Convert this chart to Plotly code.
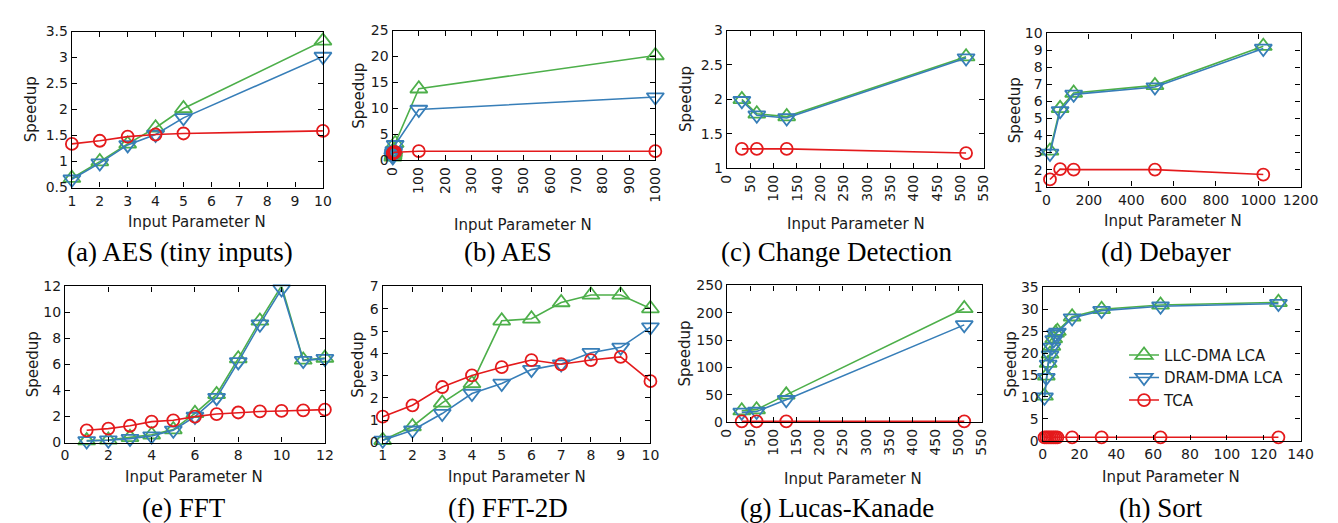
import plotly.graph_objects as go

W, H = 1338, 523

# ---------------- data ----------------
aes_tiny_n = [1, 2, 3, 4, 5, 10]
aes_tiny_llc = [0.68, 1.0, 1.34, 1.65, 2.02, 3.32]
aes_tiny_dram = [0.66, 0.97, 1.32, 1.52, 1.84, 3.02]
aes_tiny_tca = [1.34, 1.40, 1.48, 1.52, 1.54, 1.59]

aes_n = [1, 2, 3, 4, 5, 10, 100, 1000]
aes_llc = [0.68, 1.0, 1.34, 1.65, 2.02, 3.32, 13.8, 20.2]
aes_dram = [0.66, 0.97, 1.32, 1.52, 1.84, 3.02, 9.8, 12.2]
aes_tca = [1.34, 1.40, 1.48, 1.52, 1.54, 1.59, 1.78, 1.78]

cd_n = [32, 64, 128, 512]
cd_llc = [2.0, 1.79, 1.75, 2.62]
cd_dram = [1.98, 1.77, 1.73, 2.60]
cd_tca = [1.28, 1.28, 1.28, 1.22]

deb_n = [16, 64, 128, 512, 1024]
deb_llc = [3.1, 5.6, 6.5, 6.95, 9.25]
deb_dram = [2.95, 5.45, 6.42, 6.85, 9.12]
deb_tca = [1.42, 2.03, 2.0, 2.0, 1.71]

fft_n = [1, 2, 3, 4, 5, 6, 7, 8, 9, 10, 11, 12]
fft_llc = [0.15, 0.2, 0.4, 0.6, 1.0, 2.25, 3.7, 6.45, 9.35, 12.05, 6.35, 6.5]
fft_dram = [0.12, 0.18, 0.3, 0.5, 0.94, 2.0, 3.45, 6.2, 9.1, 11.8, 6.3, 6.45]
fft_tca = [0.94, 1.07, 1.29, 1.61, 1.71, 1.99, 2.19, 2.31, 2.39, 2.43, 2.48, 2.53]

fft2d_n = [1, 2, 3, 4, 5, 6, 7, 8, 9, 10]
fft2d_llc = [0.1, 0.72, 1.78, 2.65, 5.46, 5.55, 6.28, 6.62, 6.62, 6.01]
fft2d_dram = [0.1, 0.55, 1.3, 2.2, 2.65, 3.27, 3.52, 4.03, 4.27, 5.18]
fft2d_tca = [1.16, 1.67, 2.49, 3.01, 3.38, 3.7, 3.51, 3.7, 3.84, 2.75]

lk_n = [32, 64, 128, 512]
lk_llc = [21, 23, 50, 208]
lk_dram = [18, 19.5, 41, 178]
lk_tca = [1.5, 1.5, 1.5, 1.5]

sort_n = [1, 2, 3, 4, 5, 6, 7, 8, 16, 32, 64, 128]
sort_llc = [10.2, 14.8, 17.7, 19.8, 21.6, 23.3, 24.6, 25.0, 28.3, 30.0, 31.0, 31.6]
sort_dram = [9.9, 14.4, 17.4, 19.5, 21.3, 23.0, 24.3, 24.7, 28.0, 29.7, 30.7, 31.3]
sort_tca = [0.75, 0.75, 0.75, 0.75, 0.75, 0.75, 0.75, 0.75, 0.75, 0.75, 0.75, 0.75]

series_names = ["LLC-DMA LCA", "DRAM-DMA LCA", "TCA"]
captions = ["(a) AES (tiny inputs)", "(b) AES", "(c) Change Detection", "(d) Debayer",
            "(e) FFT", "(f) FFT-2D", "(g) Lucas-Kanade", "(h) Sort"]

panels = [
    (aes_tiny_n, aes_tiny_llc, aes_tiny_dram, aes_tiny_tca),
    (aes_n, aes_llc, aes_dram, aes_tca),
    (cd_n, cd_llc, cd_dram, cd_tca),
    (deb_n, deb_llc, deb_dram, deb_tca),
    (fft_n, fft_llc, fft_dram, fft_tca),
    (fft2d_n, fft2d_llc, fft2d_dram, fft2d_tca),
    (lk_n, lk_llc, lk_dram, lk_tca),
    (sort_n, sort_llc, sort_dram, sort_tca),
]

# axis settings: x range, x dtick, y range, y dtick, rotated x labels
axis_cfg = [
    ([1, 10], 1, [0.5, 3.5], 0.5, False),
    ([0, 1000], 100, [0, 25], 5, True),
    ([0, 550], 50, [1, 3], 0.5, True),
    ([0, 1200], 200, [1, 10], 1, False),
    ([0, 12], 2, [0, 12], 2, False),
    ([1, 10], 1, [0, 7], 1, False),
    ([0, 550], 50, [0, 250], 50, True),
    ([0, 140], 20, [0, 35], 5, False),
]

# plot-area pixel boxes (left, right, top, bottom)
boxes = [
    (57, 313, 16, 177), (384, 652, 15, 149), (725, 987, 15, 157), (1051, 1310, 18, 176),
    (50, 315, 279, 440), (374, 647, 279, 440), (725, 985, 278, 419), (1047, 1310, 280, 438),
]
xtitle_pos = [(185, 213), (517, 216), (857, 215), (1180, 211),
              (182, 476), (511, 476), (854, 478), (1178, 476)]
ytitle_x = [15, 350, 684, 1019, 17, 348, 682, 1015]
caption_pos = [(167, 243), (502, 243), (837, 243), (1173, 243),
               (171, 508), (502, 508), (837, 508), (1168, 508)]

GREEN, BLUE, RED = "#4DAF4A", "#377EB8", "#E41A1C"
colors = [GREEN, BLUE, RED]
symbols = ["triangle-up-open", "triangle-down-open", "circle-open"]
msizes = [15, 15, 12]

TXT = "#1a1a1a"
SANS = "DejaVu Sans"
SERIF = "Liberation Serif"
TICK_SIZE = 14
TITLE_SIZE = 15

fig = go.Figure()
annotations = []
layout_axes = {}

for i, (data, cfg, box) in enumerate(zip(panels, axis_cfg, boxes)):
    n = i + 1
    xname = "x" if n == 1 else f"x{n}"
    yname = "y" if n == 1 else f"y{n}"
    xs = data[0]
    for s in range(3):
        fig.add_trace(go.Scatter(
            x=xs, y=data[s + 1], mode="lines+markers", name=series_names[s],
            xaxis=xname, yaxis=yname, cliponaxis=False,
            line=dict(color=colors[s], width=1.6),
            marker=dict(symbol=symbols[s], size=msizes[s], color=colors[s],
                        line=dict(color=colors[s], width=1.8)),
            showlegend=(n == 8), legendrank=s + 1,
        ))
    l, r, t, b = box
    xr, xd, yr, yd, rot = cfg
    common = dict(showline=True, linecolor="black", linewidth=1.3, mirror="allticks",
                  ticks="inside", ticklen=5, tickwidth=1, tickcolor="black",
                  showgrid=False, zeroline=False,
                  tickfont=dict(family=SANS, size=TICK_SIZE, color=TXT))
    layout_axes["xaxis" if n == 1 else f"xaxis{n}"] = dict(
        domain=[l / W, r / W], range=xr, dtick=xd, tick0=xr[0],
        anchor=yname, tickangle=-90 if rot else 0, **common)
    layout_axes["yaxis" if n == 1 else f"yaxis{n}"] = dict(
        domain=[1 - b / H, 1 - t / H], range=yr, dtick=yd, tick0=yr[0],
        anchor=xname, **common)
    annotations.append(dict(text="Input Parameter N", x=xtitle_pos[i][0] / W, y=1 - xtitle_pos[i][1] / H,
                            xref="paper", yref="paper", showarrow=False, xanchor="center", yanchor="middle",
                            font=dict(family=SANS, size=TITLE_SIZE, color=TXT)))
    annotations.append(dict(text="Speedup", x=ytitle_x[i] / W, y=1 - (t + b) / 2 / H,
                            xref="paper", yref="paper", showarrow=False, textangle=-90,
                            xanchor="center", yanchor="middle",
                            font=dict(family=SANS, size=TITLE_SIZE, color=TXT)))
    annotations.append(dict(text=captions[i], x=caption_pos[i][0] / W, y=1 - caption_pos[i][1] / H,
                            xref="paper", yref="paper", showarrow=False, xanchor="center", yanchor="middle",
                            font=dict(family=SERIF, size=27, color="black")))

fig.update_layout(
    width=W, height=H, autosize=False,
    margin=dict(l=0, r=0, t=0, b=0),
    paper_bgcolor="white", plot_bgcolor="white",
    annotations=annotations,
    legend=dict(x=1130 / W, y=1 - 333 / H, xanchor="left", yanchor="top",
                bgcolor="rgba(0,0,0,0)", font=dict(family=SANS, size=TITLE_SIZE, color=TXT),
                tracegroupgap=0, itemwidth=30),
    **layout_axes,
)

fig.write_html("out.html")
